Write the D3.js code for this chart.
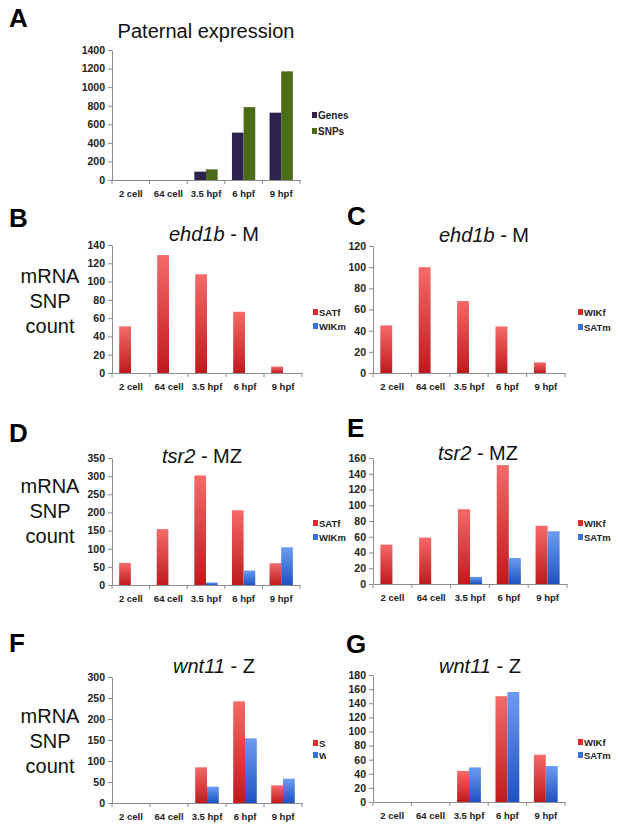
<!DOCTYPE html>
<html>
<head>
<meta charset="utf-8">
<script src="https://cdn.jsdelivr.net/npm/d3@7"></script>
<style>
  html, body { margin: 0; padding: 0; background: #fff; }
  svg { display: block; font-family: "Liberation Sans", Arial, Helvetica, sans-serif; }
</style>
</head>
<body>
<svg id="chart" width="619" height="826"></svg>
<script>
// ---------- DATA ----------
const categories = ["2 cell", "64 cell", "3.5 hpf", "6 hpf", "9 hpf"];

// Panel A
const seriesA = ["Genes", "SNPs"];
const genesA = [0, 0, 90, 510, 725];
const snpsA = [0, 0, 115, 785, 1170];
const ticksA = [0, 200, 400, 600, 800, 1000, 1200, 1400];

// Panel B (ehd1b - M, SATf x WIKm)
const seriesB = ["SATf", "WIKm"];
const satfB = [51, 129, 108, 67, 7];
const wikmB = [0, 0, 0, 0, 0];
const ticksB = [0, 20, 40, 60, 80, 100, 120, 140];

// Panel C (ehd1b - M, WIKf x SATm)
const seriesC = ["WIKf", "SATm"];
const wikfC = [45, 100, 68, 44, 10];
const satmC = [0, 0, 0, 0, 0];
const ticksC = [0, 20, 40, 60, 80, 100, 120];

// Panel D (tsr2 - MZ)
const seriesD = ["SATf", "WIKm"];
const satfD = [61, 154, 302, 206, 60];
const wikmD = [0, 0, 7, 40, 104];
const ticksD = [0, 50, 100, 150, 200, 250, 300, 350];

// Panel E (tsr2 - MZ)
const seriesE = ["WIKf", "SATm"];
const wikfE = [50, 59, 95, 151, 74];
const satmE = [0, 0, 9, 33, 67];
const ticksE = [0, 20, 40, 60, 80, 100, 120, 140, 160];

// Panel F (wnt11 - Z)
const seriesF = ["SATf", "WIKm"];
const satfF = [0, 0, 85, 242, 42];
const wikmF = [0, 0, 39, 154, 58];
const ticksF = [0, 50, 100, 150, 200, 250, 300];

// Panel G (wnt11 - Z)
const seriesG = ["WIKf", "SATm"];
const wikfG = [0, 0, 44, 150, 67];
const satmG = [0, 0, 49, 156, 51];
const ticksG = [0, 20, 40, 60, 80, 100, 120, 140, 160, 180];

const yLabelLines = ["mRNA", "SNP", "count"];

// ---------- LAYOUT ----------
const svg = d3.select("#chart");
const defs = svg.append("defs");

function grad(id, top, bottom) {
  const g = defs.append("linearGradient").attr("id", id)
    .attr("x1", 0).attr("y1", 0).attr("x2", 0).attr("y2", 1);
  g.append("stop").attr("offset", "0%").attr("stop-color", top);
  g.append("stop").attr("offset", "100%").attr("stop-color", bottom);
}
grad("gRed", "#f56a6a", "#bf1a1c");
grad("gBlue", "#6c9cf0", "#1e52c2");

const fillsA = ["#2d2150", "#4b6b18"];
const fillsRB = ["url(#gRed)", "url(#gBlue)"];
const legendFillsRB = ["#e02a2a", "#3a72dc"];

const panels = [
  { letter: "A", lx: 9, ly: 27, title: ["", "Paternal expression"], tx: 206, ty: 38, tsize: 20,
    x0: 112, x1: 300, yb: 180, yt: 50, ticks: ticksA, series: seriesA, values: [genesA, snpsA],
    fills: fillsA, lfills: fillsA, legX: 312, legY: [115, 131], legFont: 10, yLabel: null },
  { letter: "B", lx: 9, ly: 227, title: ["ehd1b", " - M"], tx: 214, ty: 241, tsize: 20,
    x0: 112, x1: 302, yb: 373, yt: 245, ticks: ticksB, series: seriesB, values: [satfB, wikmB],
    fills: fillsRB, lfills: legendFillsRB, legX: 313, legY: [312, 326], legFont: 9.5, yLabel: [50, 283] },
  { letter: "C", lx: 347, ly: 225, title: ["ehd1b", " - M"], tx: 484, ty: 242, tsize: 20,
    x0: 373, x1: 565, yb: 373, yt: 246, ticks: ticksC, series: seriesC, values: [wikfC, satmC],
    fills: fillsRB, lfills: legendFillsRB, legX: 578, legY: [312, 327], legFont: 9.5, yLabel: null },
  { letter: "D", lx: 9, ly: 442, title: ["tsr2", " - MZ"], tx: 202, ty: 463, tsize: 20,
    x0: 112, x1: 300, yb: 585, yt: 458, ticks: ticksD, series: seriesD, values: [satfD, wikmD],
    fills: fillsRB, lfills: legendFillsRB, legX: 313, legY: [523, 537], legFont: 9.5, yLabel: [50, 493] },
  { letter: "E", lx: 347, ly: 437, title: ["tsr2", " - MZ"], tx: 478, ty: 460, tsize: 20,
    x0: 373, x1: 567, yb: 584, yt: 458, ticks: ticksE, series: seriesE, values: [wikfE, satmE],
    fills: fillsRB, lfills: legendFillsRB, legX: 578, legY: [523, 537], legFont: 9.5, yLabel: null },
  { letter: "F", lx: 9, ly: 652, title: ["wnt11", " - Z"], tx: 214, ty: 673, tsize: 20,
    x0: 112, x1: 302, yb: 803, yt: 677, ticks: ticksF, series: seriesF, values: [satfF, wikmF],
    fills: fillsRB, lfills: legendFillsRB, legX: 313, legY: [743, 755], legFont: 9.5, yLabel: [50, 723], clipLegend: 326 },
  { letter: "G", lx: 346, ly: 653, title: ["wnt11", " - Z"], tx: 480, ty: 673, tsize: 20,
    x0: 373, x1: 565, yb: 802, yt: 675, ticks: ticksG, series: seriesG, values: [wikfG, satmG],
    fills: fillsRB, lfills: legendFillsRB, legX: 578, legY: [742, 755], legFont: 9.5, yLabel: null }
];

const axisColor = "#8c8c8c";

panels.forEach((p, pi) => {
  const g = svg.append("g");
  const maxV = p.ticks[p.ticks.length - 1];

  const x = d3.scaleBand().domain(categories).range([p.x0, p.x1]).paddingInner(0).paddingOuter(0);
  const bw = x.bandwidth();
  const xs = d3.scaleBand().domain(p.series).range([bw * 0.19, bw * 0.81]).padding(0);
  const y = d3.scaleLinear().domain([0, maxV]).range([p.yb, p.yt]);

  // panel letter
  g.append("text").attr("x", p.lx).attr("y", p.ly)
    .attr("font-size", 26).attr("font-weight", "bold").attr("fill", "#000").text(p.letter);

  // title
  const t = g.append("text").attr("x", p.tx).attr("y", p.ty).attr("text-anchor", "middle")
    .attr("font-size", p.tsize).attr("fill", "#111");
  if (p.title[0]) t.append("tspan").attr("font-style", "italic").text(p.title[0]);
  t.append("tspan").text(p.title[1]);

  // bars
  p.series.forEach((s, si) => {
    g.append("g").selectAll("rect").data(p.values[si]).join("rect")
      .attr("x", (d, i) => x(categories[i]) + xs(s))
      .attr("width", xs.bandwidth())
      .attr("y", d => y(d))
      .attr("height", d => y(0) - y(d))
      .attr("fill", p.fills[si]);
  });

  // y axis
  const yAxis = g.append("g").attr("transform", `translate(${p.x0},0)`)
    .call(d3.axisLeft(y).tickValues(p.ticks).tickFormat(d3.format("d"))
      .tickSize(4).tickPadding(3).tickSizeOuter(0));
  yAxis.select(".domain").attr("stroke", axisColor);
  yAxis.selectAll(".tick line").attr("stroke", axisColor);
  yAxis.selectAll(".tick text").attr("font-size", 10.5).attr("font-weight", "bold")
    .attr("fill", "#222").attr("font-family", "Liberation Sans, Arial, sans-serif");

  // x axis
  const xAxis = g.append("g").attr("transform", `translate(0,${p.yb})`)
    .call(d3.axisBottom(x).tickSize(0).tickPadding(10).tickSizeOuter(0));
  xAxis.select(".domain").attr("stroke", axisColor);
  xAxis.selectAll(".tick text").attr("font-size", 9.5).attr("font-weight", "bold")
    .attr("fill", "#222").attr("font-family", "Liberation Sans, Arial, sans-serif");
  // category boundary tick marks
  const bounds = categories.map(c => x(c)).concat([p.x1]);
  g.append("g").selectAll("line").data(bounds).join("line")
    .attr("x1", d => d).attr("x2", d => d)
    .attr("y1", p.yb).attr("y2", p.yb + 4)
    .attr("stroke", axisColor);

  // legend
  let lg = g.append("g");
  if (p.clipLegend) {
    const cid = "clipLeg" + pi;
    defs.append("clipPath").attr("id", cid).append("rect")
      .attr("x", 0).attr("y", 0).attr("width", p.clipLegend).attr("height", 826);
    lg.attr("clip-path", `url(#${cid})`);
  }
  p.series.forEach((s, si) => {
    lg.append("rect").attr("x", p.legX).attr("y", p.legY[si] - 3)
      .attr("width", 5).attr("height", 6).attr("fill", p.lfills[si]);
    lg.append("text").attr("x", p.legX + 6).attr("y", p.legY[si] + 3.5)
      .attr("font-size", p.legFont).attr("font-weight", "bold").attr("fill", "#222").text(s);
  });

  // y label
  if (p.yLabel) {
    g.append("g").selectAll("text").data(yLabelLines).join("text")
      .attr("x", p.yLabel[0]).attr("y", (d, i) => p.yLabel[1] + i * 25)
      .attr("text-anchor", "middle").attr("font-size", 20).attr("fill", "#111").text(d => d);
  }
});
</script>
</body>
</html>
